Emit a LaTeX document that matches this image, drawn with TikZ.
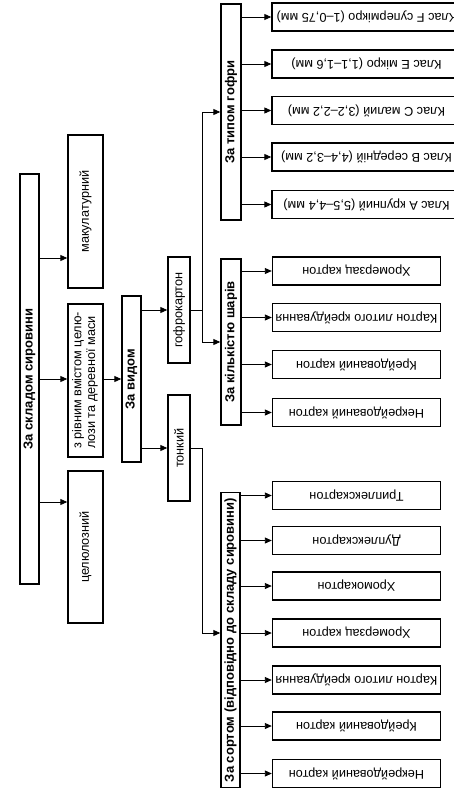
\documentclass[tikz,border=0pt]{standalone}
\usepackage{fontspec}
\setmainfont{Liberation Sans}
\usetikzlibrary{arrows.meta,calc}
\begin{document}
\begin{tikzpicture}[x=1pt,y=-1pt,
  box/.style={draw, line width=1.4pt, inner sep=0pt, fill=white, font=\fontsize{12.7}{13.6}\selectfont},
  cat/.style={box, font=\fontsize{13}{14}\selectfont\bfseries},
  vbox/.style={box, minimum width=35pt, minimum height=153pt},
  leaf/.style={box, minimum height=28pt},
  toph/.style={leaf, minimum width=189pt},
  lowh/.style={leaf, minimum width=168pt},
  arr/.style={line width=0.9pt, -{Triangle[length=7pt,width=6pt]}}]
\useasboundingbox (0,0) rectangle (454,789);
\clip (0,0) rectangle (454,789);
% column 1
\node[cat, minimum width=19pt, minimum height=410pt] (root) at (29.5,379) {\rotatebox{90}{За складом сировини}};
% column 2
\node[vbox] (mak) at (85.5,211.5) {\rotatebox{90}{макулатурний}};
\node[vbox] (riv) at (85.5,380.5) {\rotatebox{90}{\begin{tabular}{@{}l@{}}з рівним вмістом целю-\\лози та деревної маси\end{tabular}}};
\node[vbox, minimum height=152pt] (cel) at (85.5,547) {\rotatebox{90}{целюлозний}};
% column 3
\node[cat, minimum width=19pt, minimum height=166pt] (vid) at (131.5,379) {\rotatebox{90}{За видом}};
% column 4
\node[box, minimum width=22pt, minimum height=106pt] (gof) at (179,310) {\rotatebox{90}{гофрокартон}};
\node[box, minimum width=22pt, minimum height=106pt] (ton) at (179,448) {\rotatebox{90}{тонкий}};
% column 5
\node[cat, minimum width=20pt, minimum height=216pt] (tip) at (231,112) {\rotatebox{90}{За типом гофри}};
\node[cat, minimum width=20pt, minimum height=166pt] (kil) at (231,342) {\rotatebox{90}{За кількістю шарів}};
\node[cat, minimum width=19pt, minimum height=295pt] (sort) at (230.5,640) {\rotatebox{90}{За сортом (відповідно до складу сировини)}};
% leaves: type of corrugation
\node[toph] (f) at (366.5,17) {\rotatebox{180}{Клас F супермікро (1–0,75 мм)}};
\node[toph] (e) at (366.5,64) {\rotatebox{180}{Клас E мікро (1,1–1,6 мм)}};
\node[toph] (c) at (366.5,110.5) {\rotatebox{180}{Клас C малий (3,2–2,2 мм)}};
\node[toph] (b) at (366.5,157) {\rotatebox{180}{Клас B середній (4,4–3,2 мм)}};
\node[toph] (a) at (366.5,204.5) {\rotatebox{180}{Клас А крупний (5,5–4,4 мм)}};
% leaves: number of layers
\node[lowh] (k1) at (356.5,271) {\rotatebox{180}{Хромерзац картон}};
\node[lowh] (k2) at (356.5,317.5) {\rotatebox{180}{Картон литого крейдування}};
\node[lowh] (k3) at (356.5,364.5) {\rotatebox{180}{Крейдований картон}};
\node[lowh] (k4) at (356.5,412.5) {\rotatebox{180}{Некрейдований картон}};
% leaves: grade
\node[lowh] (s1) at (356.5,495.5) {\rotatebox{180}{Триплекскартон}};
\node[lowh] (s2) at (356.5,540.5) {\rotatebox{180}{Дуплекскартон}};
\node[lowh] (s3) at (356.5,586) {\rotatebox{180}{Хромокартон}};
\node[lowh] (s4) at (356.5,633) {\rotatebox{180}{Хромерзац картон}};
\node[lowh] (s5) at (356.5,680) {\rotatebox{180}{Картон литого крейдування}};
\node[lowh] (s6) at (356.5,726) {\rotatebox{180}{Крейдований картон}};
\node[lowh] (s7) at (356.5,773.5) {\rotatebox{180}{Некрейдований картон}};
% connectors
\draw[arr] ([yshift=121pt]root.east) coordinate (r1) -- (r1 -| mak.west);
\draw[arr] (root.east) -- (root.east -| riv.west);
\draw[arr] ([yshift=-123pt]root.east) coordinate (r3) -- (r3 -| cel.west);
\draw[arr] (riv.east |- vid.west) -- (vid.west);
\draw[arr] (vid.east |- gof.west) -- (gof.west);
\draw[arr] (vid.east |- ton.west) -- (ton.west);
\coordinate (j1) at ($(gof.east)+(12,0)$);
\draw[arr] (gof.east) -- (j1) |- (tip.west);
\draw[arr] (j1) |- (kil.west);
\coordinate (j2) at ($(ton.east)+(12,0)$);
\draw[arr] (ton.east) -- (j2) |- (sort.west |- s4.west);
\foreach \n in {f,e,c,b,a} \draw[arr] (tip.east |- \n.west) -- (\n.west);
\foreach \n in {k1,k2,k3,k4} \draw[arr] (kil.east |- \n.west) -- (\n.west);
\foreach \n in {s1,s2,s3,s4,s5,s6,s7} \draw[arr] (sort.east |- \n.west) -- (\n.west);
\end{tikzpicture}
\end{document}
